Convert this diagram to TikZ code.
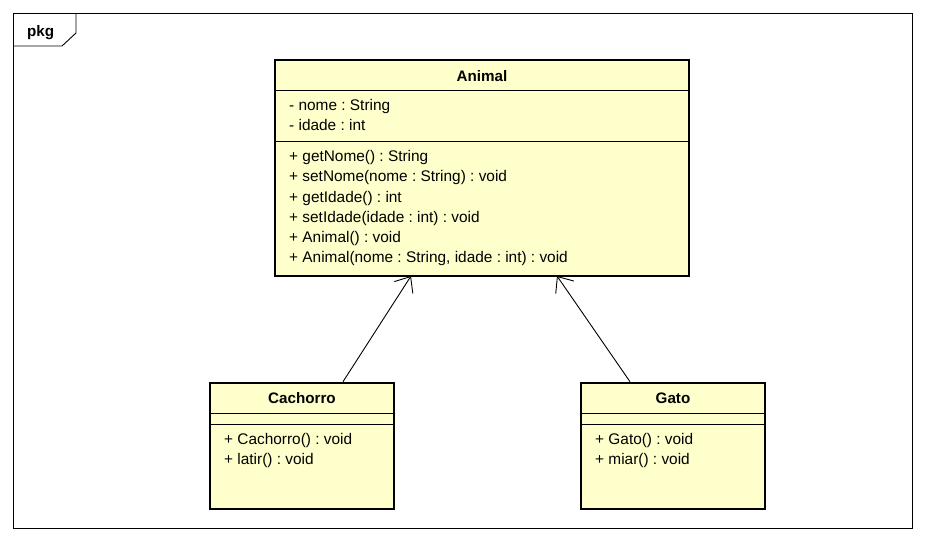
\documentclass[tikz,border=0pt]{standalone}
\usepackage{fontspec}
\setmainfont{Liberation Sans}
\frenchspacing
\usetikzlibrary{calc,arrows.meta}
\definecolor{umlfill}{HTML}{FFFFCC}
\begin{document}
\begin{tikzpicture}[x=1pt,y=-1pt,
  cls/.style={draw,line width=2.6pt,fill=umlfill,inner sep=0pt},
  sep/.style={line width=0.9pt},
  lbl/.style={anchor=base west,inner sep=0pt,font=\fontsize{15.4}{17}\selectfont},
  ttl/.style={anchor=base,inner sep=0pt,font=\fontsize{15.2}{17}\selectfont\bfseries},
  gen/.style={line width=0.9pt,-{Straight Barb[length=13pt,width=22pt]}}]
\useasboundingbox (0,0) rectangle (925,541);
% frame
\node[draw,line width=0.9pt,minimum width=899pt,minimum height=515pt,inner sep=0pt] (frame) at (462.5,270.5) {};
\coordinate (t1) at (76,13);
\coordinate (t2) at (76,33);
\coordinate (t3) at (62,46);
\coordinate (t4) at (13,46);
\draw[line width=0.9pt] (t1) -- (t2) -- (t3) -- (t4);
\node[ttl,anchor=base west] (pkg) at (27,36) {pkg};
% Animal
\node[cls,minimum width=414pt,minimum height=216pt] (animal) at (482,168) {};
\draw[sep] (275,90) -- (689,90);
\draw[sep] (275,141) -- (689,141);
\node[ttl] (an) at (482,81) {Animal};
\node[lbl] (a1) at (289,110.5) {- nome : String};
\node[lbl] (a2) at (289,130.5) {- idade : int};
\node[lbl] (m1) at (289,161.5) {+ getNome() : String};
\node[lbl] (m2) at (289,181.5) {+ setNome(nome : String) : void};
\node[lbl] (m3) at (289,202) {+ getIdade() : int};
\node[lbl] (m4) at (289,222) {+ setIdade(idade : int) : void};
\node[lbl] (m5) at (289,242.5) {+ Animal() : void};
\node[lbl] (m6) at (289,262.5) {+ Animal(nome : String, idade : int) : void};
% Cachorro
\node[cls,minimum width=184pt,minimum height=126pt] (cach) at (302,446) {};
\draw[sep] (210,413) -- (394,413);
\draw[sep] (210,424) -- (394,424);
\node[ttl] (cn) at (302,403) {Cachorro};
\node[lbl] (c1) at (224,444.5) {+ Cachorro() : void};
\node[lbl] (c2) at (224,464.5) {+ latir() : void};
% Gato
\node[cls,minimum width=184pt,minimum height=126pt] (gato) at (673,446) {};
\draw[sep] (581,413) -- (765,413);
\draw[sep] (581,424) -- (765,424);
\node[ttl] (gn) at (673,403) {Gato};
\node[lbl] (g1) at (595,444.5) {+ Gato() : void};
\node[lbl] (g2) at (595,464.5) {+ miar() : void};
% generalizations
\draw[gen] ([xshift=41pt]cach.north) -- ([xshift=-71pt,yshift=1.3pt]animal.south);
\draw[gen] ([xshift=-43pt]gato.north) -- ([xshift=75pt,yshift=1.3pt]animal.south);
\end{tikzpicture}
\end{document}
